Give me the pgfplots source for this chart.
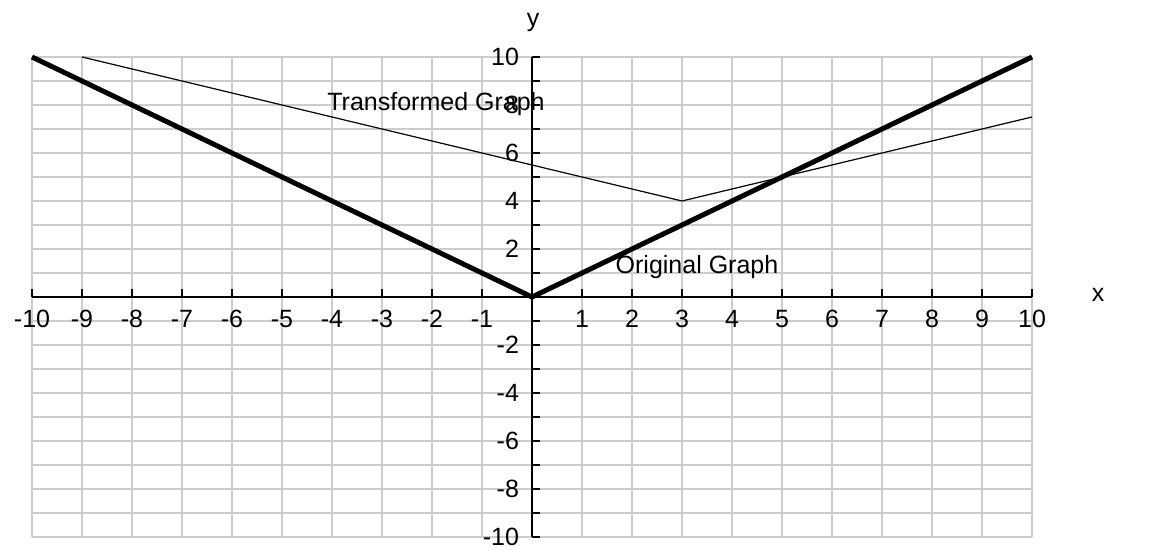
\documentclass[border=0pt]{standalone}
\usepackage{fontspec}
\setmainfont{Liberation Sans}
\usepackage{pgfplots}
\pgfplotsset{compat=1.18}
\begin{document}
\begin{tikzpicture}
\useasboundingbox (0,0) rectangle (580pt,275pt);
\begin{axis}[
  scale only axis, width=500pt, height=240pt,
  at={(16pt,6.5pt)}, anchor=south west,
  axis lines=middle, axis line style={-, line width=0.75pt, black},
  xmin=-10, xmax=10, ymin=-10, ymax=10,
  enlargelimits=false, clip=false,
  xtick={-10,...,10}, ytick={-10,...,10},
  xticklabels={-10,-9,-8,-7,-6,-5,-4,-3,-2,-1,,1,2,3,4,5,6,7,8,9,10},
  yticklabels={-10,,-8,,-6,,-4,,-2,,,,2,,4,,6,,8,,10},
  hide obscured x ticks=false, hide obscured y ticks=false,
  grid=major, grid style={draw=black!20, line width=0.75pt},
  major tick length=4pt, tick style={black, line width=0.75pt},
  tick align=center,
  xtick style={yshift=2pt}, ytick style={xshift=2pt},
  tick label style={font=\fontsize{12.5}{14}\selectfont},
  xticklabel style={anchor=north, yshift=-1pt},
  yticklabel style={anchor=east, xshift=-1pt},
]
\addplot[black, line width=0.6pt] coordinates {(-9,10) (3,4) (10,7.5)};
\addplot[black, line width=2.5pt] coordinates {(-10,10) (0,0) (10,10)};
\node[font=\fontsize{12.5}{14}\selectfont] at (axis cs:-1.92,8.04) {Transformed Graph};
\node[font=\fontsize{12.5}{14}\selectfont] at (axis cs:3.3,1.25) {Original Graph};
\node[font=\fontsize{12.5}{14}\selectfont] at (axis cs:0.02,11.45) {y};
\node[font=\fontsize{12.5}{14}\selectfont] at (axis cs:11.32,0.1) {x};
\end{axis}
\end{tikzpicture}
\end{document}
